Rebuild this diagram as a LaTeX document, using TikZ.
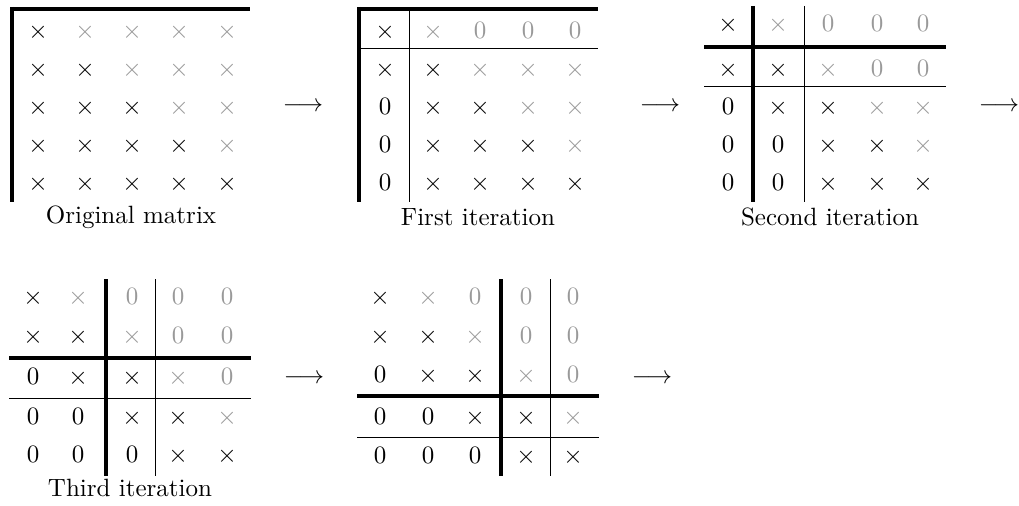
\documentclass[tikz,border=0pt]{standalone}
\usepackage{xcolor}
\definecolor{lgray}{gray}{0.6}
\newcommand\mysyma{$\times$}
\newcommand\mysymb{\textcolor{lgray}{$\times$}}
\newcommand\mysymz{$0$}
\newcommand\mysymg{\textcolor{lgray}{$0$}}
\newcommand\drawmat[4]{%
  \foreach \row [count=\r] in {#4} {
    \foreach \e [count=\c] in \row {
      \pgfmathsetmacro\xx{{#2}[\c-1]}
      \pgfmathsetmacro\yy{{#3}[\r-1]}
      \node[cell] (#1-\r-\c) at (\xx,\yy) {\csname mysym\e\endcsname};
    }
  }%
}
\tikzset{
  cell/.style={inner sep=0pt, text height=7pt, text depth=2pt},
  thickrule/.style={line width=1.6pt, line cap=butt},
  thinrule/.style={line width=0.4pt, line cap=butt},
  arrowtext/.style={inner sep=0pt, text height=7pt, text depth=2pt},
  caption/.style={inner sep=0pt}
}
\begin{document}
\begin{tikzpicture}[x=0.4pt,y=-0.4pt]
\useasboundingbox (0,0) rectangle (1019,506);
% Matrix 1
\drawmat{ma}{38,85,132,179,227}{32,70,108,146,184}{{a,b,b,b,b},{a,a,b,b,b},{a,a,a,b,b},{a,a,a,a,b},{a,a,a,a,a}}
\draw[thickrule] (12,7) -- (12,202);
\draw[thickrule] (10,9) -- (250,9);
\node[caption] (lab1) at (131,217) {Original matrix};
\node[arrowtext] (arr1) at (303,105) {$\longrightarrow$};
% Matrix 2
\drawmat{mb}{385,433,480,528,575}{32,70,108,146,184}{{a,b,g,g,g},{a,a,b,b,b},{z,a,a,b,b},{z,a,a,a,b},{z,a,a,a,a}}
\draw[thickrule] (359,7) -- (359,202);
\draw[thickrule] (357,9) -- (598,9);
\draw[thinrule] (409,9) -- (409,202);
\draw[thinrule] (359,49) -- (598,49);
\node[caption] (lab2) at (478,217) {First iteration};
\node[arrowtext] (arr2) at (660,105) {$\longrightarrow$};
% Matrix 3
\drawmat{mc}{728,778,828,877,923}{25,70,108,146,184}{{a,b,g,g,g},{a,a,b,g,g},{z,a,a,b,b},{z,z,a,a,b},{z,z,a,a,a}}
\draw[thickrule] (753,6) -- (753,202);
\draw[thinrule] (804,6) -- (804,202);
\draw[thickrule] (704,47) -- (946,47);
\draw[thinrule] (704,87) -- (946,87);
\node[caption] (lab3) at (830,217) {Second iteration};
\node[arrowtext] (arr3) at (999,105) {$\longrightarrow$};
% Matrix 4
\drawmat{md}{33,78,132,178,227}{298,337,378,418,456}{{a,b,g,g,g},{a,a,b,g,g},{z,a,a,b,g},{z,z,a,a,b},{z,z,z,a,a}}
\draw[thickrule] (106,279) -- (106,476);
\draw[thinrule] (155,279) -- (155,476);
\draw[thickrule] (9,358) -- (251,358);
\draw[thinrule] (9,398) -- (251,398);
\node[caption] (lab4) at (130,488) {Third iteration};
\node[arrowtext] (arr4) at (304,377) {$\longrightarrow$};
% Matrix 5
\drawmat{me}{380,428,475,526,573}{298,337,376,418,457}{{a,b,g,g,g},{a,a,b,g,g},{z,a,a,b,g},{z,z,a,a,b},{z,z,z,a,a}}
\draw[thickrule] (501,279) -- (501,476);
\draw[thinrule] (550,279) -- (550,476);
\draw[thickrule] (357,396) -- (599,396);
\draw[thinrule] (357,437) -- (599,437);
\node[arrowtext] (arr5) at (652,377) {$\longrightarrow$};
\end{tikzpicture}
\end{document}
